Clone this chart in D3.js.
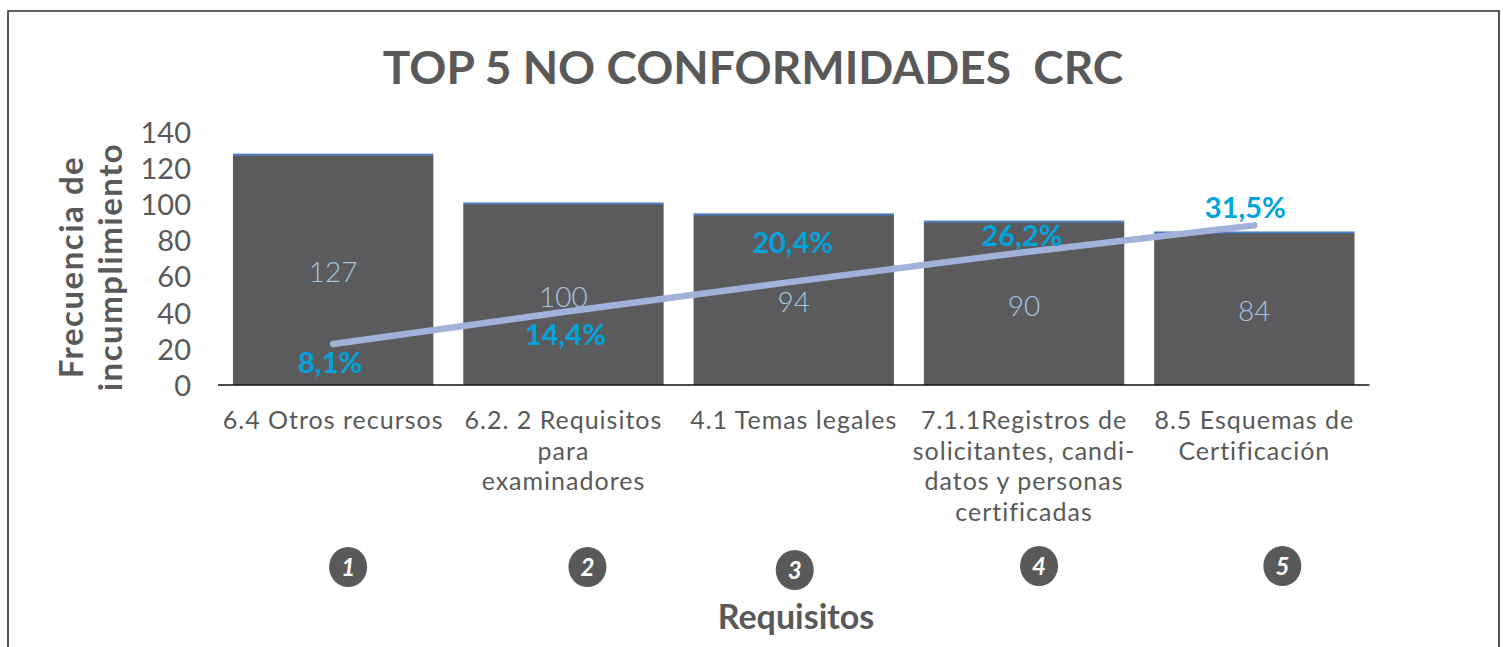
<!DOCTYPE html>
<html>
<head>
<meta charset="utf-8">
<script src="https://cdn.jsdelivr.net/npm/d3@7/dist/d3.min.js"></script>
<style>
  html, body { margin: 0; padding: 0; background: #fff; }
  svg { display: block; }
  text { font-family: "Lato", "Open Sans", sans-serif; }
</style>
</head>
<body>
<svg id="chart" width="1503" height="647"></svg>
<script>
// ---- data ----
const categories = [
  "6.4 Otros recursos",
  "6.2. 2 Requisitos para examinadores",
  "4.1 Temas legales",
  "7.1.1Registros de solicitantes, candidatos y personas certificadas",
  "8.5 Esquemas de Certificación"
];
const categoryLines = [
  ["6.4 Otros recursos"],
  ["6.2. 2 Requisitos", "para", "examinadores"],
  ["4.1 Temas legales"],
  ["7.1.1Registros de", "solicitantes, candi-", "datos y personas", "certificadas"],
  ["8.5 Esquemas de", "Certificación"]
];
const frequency = [127, 100, 94, 90, 84];
const cumulativePct = [8.1, 14.4, 20.4, 26.2, 31.5];
const pctLabels = ["8,1%", "14,4%", "20,4%", "26,2%", "31,5%"];
const rankLabels = ["1", "2", "3", "4", "5"];
const yTicks = [0, 20, 40, 60, 80, 100, 120, 140];
const title = "TOP 5 NO CONFORMIDADES  CRC";
const yTitleLines = ["Frecuencia de", "incumplimiento"];
const xTitle = "Requisitos";

// ---- layout ----
const svg = d3.select("#chart");
const W = 1503, H = 647;
const plotTop = 131.6, plotBottom = 385;
const plotLeft = 218, plotRight = 1369.5;

const grey = "#595959";
const barColor = "#5B5B5D";

// frame
svg.append("path")
  .attr("d", `M8,${H} L8,11 L1499,11 L1499,${H}`)
  .attr("fill", "none").attr("stroke", "#2b2b2b").attr("stroke-width", 1.6);

const x = d3.scaleBand().domain(d3.range(categories.length))
  .range([plotLeft, plotRight]).paddingInner(0.13).paddingOuter(0.065);
const y = d3.scaleLinear().domain([0, 140]).range([plotBottom, plotTop]);
const y2 = d3.scaleLinear().domain([0, 50]).range([plotBottom, plotTop]);

// title
svg.append("text").attr("x", 753).attr("y", 84)
  .attr("text-anchor", "middle").attr("fill", grey)
  .attr("font-size", 46).attr("font-weight", "bold")
  .style("white-space", "pre")
  .text(title);

// y tick labels
const yAxis = d3.axisLeft(y).tickValues(yTicks).tickSize(0).tickPadding(0);
const yg = svg.append("g").attr("transform", `translate(191,0)`).call(yAxis);
yg.select(".domain").remove();
yg.selectAll("text").attr("fill", grey).attr("font-size", 29)
  .attr("font-family", "Lato, sans-serif").attr("dy", "0.36em");

// y title
const yt = svg.append("text")
  .attr("transform", "translate(0,267) rotate(-90)")
  .attr("text-anchor", "middle").attr("fill", grey)
  .attr("font-size", 33).attr("font-weight", "bold")
  .attr("letter-spacing", 1.5);
yt.selectAll("tspan").data(yTitleLines).join("tspan")
  .attr("x", 0).attr("y", (d, i) => 83 + i * 39)
  .text(d => d);

// bars
svg.append("g").selectAll("rect").data(frequency).join("rect")
  .attr("x", (d, i) => x(i)).attr("width", x.bandwidth())
  .attr("y", d => y(d)).attr("height", d => plotBottom - y(d))
  .attr("fill", barColor);
// thin blue cap on top of each bar
svg.append("g").selectAll("rect").data(frequency).join("rect")
  .attr("x", (d, i) => x(i)).attr("width", x.bandwidth())
  .attr("y", d => y(d) - 1.5).attr("height", 2)
  .attr("fill", "#4A7CC4");

// x axis line
svg.append("line").attr("x1", plotLeft).attr("x2", plotRight)
  .attr("y1", plotBottom).attr("y2", plotBottom)
  .attr("stroke", "#111").attr("stroke-width", 1.3);

// value labels
svg.append("g").selectAll("text").data(frequency).join("text")
  .attr("x", (d, i) => x(i) + x.bandwidth() / 2)
  .attr("y", d => (y(d) + plotBottom) / 2 + 2)
  .attr("dy", "0.36em")
  .attr("text-anchor", "middle").attr("fill", "#A4C7E0")
  .attr("font-size", 28).attr("font-weight", 300)
  .text(d => d);

// cumulative line
const line = d3.line()
  .x((d, i) => x(i) + x.bandwidth() / 2)
  .y(d => y2(d));
svg.append("path").datum(cumulativePct)
  .attr("d", line).attr("fill", "none")
  .attr("stroke", "#A0B2DA").attr("stroke-width", 6.5)
  .attr("stroke-linecap", "round");

// percent labels (below for first two points, above for the rest)
const pctOffset = [19, 23, -39, -17, -18];
const pctDx = [-3, 2, -1, -2, -9];
svg.append("g").selectAll("text").data(cumulativePct).join("text")
  .attr("x", (d, i) => x(i) + x.bandwidth() / 2 + pctDx[i])
  .attr("y", (d, i) => y2(d) + pctOffset[i])
  .attr("dy", "0.36em")
  .attr("text-anchor", "middle").attr("fill", "#00A3DC")
  .attr("font-size", 29).attr("font-weight", "bold")
  .text((d, i) => pctLabels[i]);

// category labels
const cg = svg.append("g").selectAll("text").data(categoryLines).join("text")
  .attr("text-anchor", "middle").attr("fill", grey)
  .attr("font-size", 25).attr("letter-spacing", 1);
cg.selectAll("tspan").data((d, i) => d.map(s => ({ s, i }))).join("tspan")
  .attr("x", d => x(d.i) + x.bandwidth() / 2)
  .attr("y", (d, j) => 429 + j * 30.5)
  .text(d => d.s);

// rank badges
const badgeDx = [15, 24, 1, 15, 28];
const badgeDy = [567, 567, 570, 566, 566];
const bg = svg.append("g").selectAll("g").data(rankLabels).join("g")
  .attr("transform", (d, i) => `translate(${x(i) + x.bandwidth() / 2 + badgeDx[i]},${badgeDy[i]})`);
bg.append("ellipse").attr("rx", 19).attr("ry", 20).attr("fill", grey);
bg.append("text").attr("text-anchor", "middle").attr("dy", "0.36em")
  .attr("fill", "#fff").attr("font-size", 24).attr("font-weight", "bold")
  .attr("font-style", "italic").text(d => d);

// x title
svg.append("text").attr("x", 796).attr("y", 629)
  .attr("text-anchor", "middle").attr("fill", grey)
  .attr("font-size", 34).attr("font-weight", "bold")
  .text(xTitle);
</script>
</body>
</html>
